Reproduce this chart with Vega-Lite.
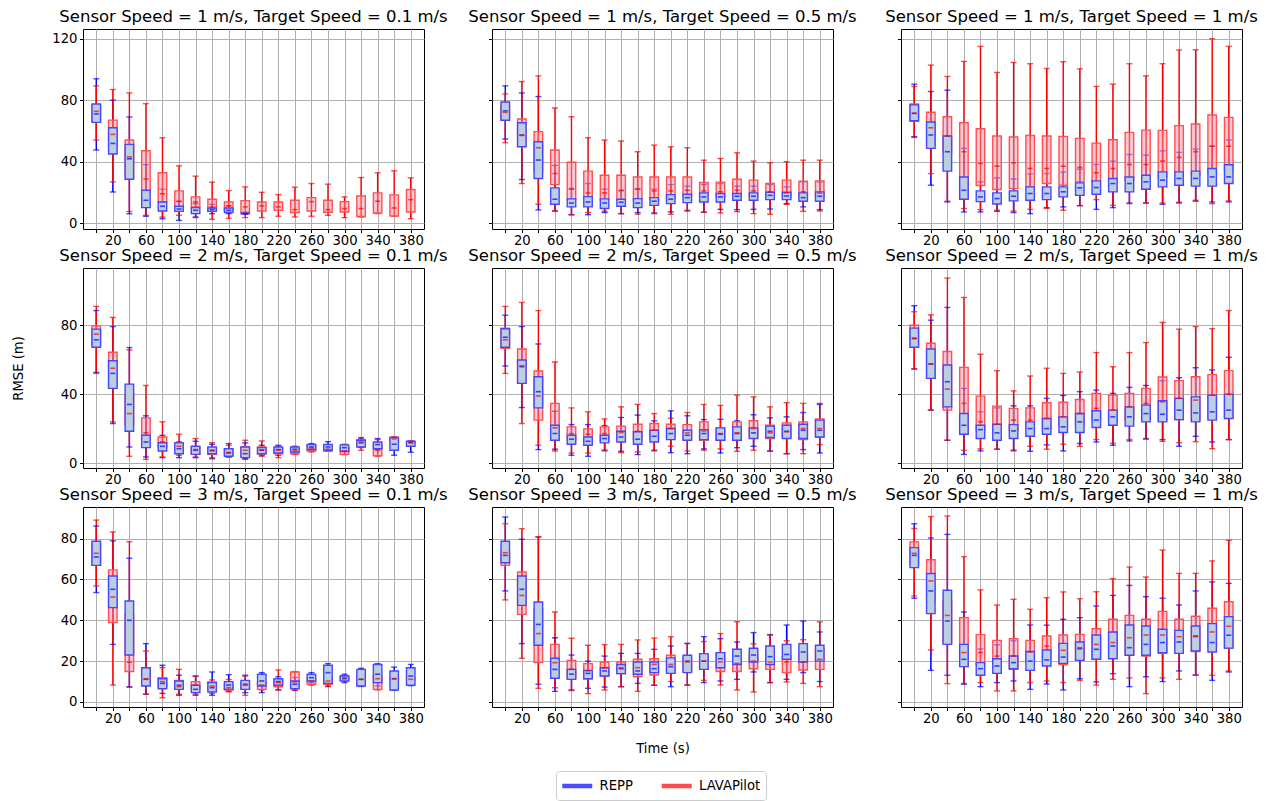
{
"$schema": "https://vega.github.io/schema/vega-lite/v6.json",
"padding": {"left": 10, "top": 8, "right": 5, "bottom": 5},
"background": "white",
"datasets": {"d": [
{"s":1,"tgt":0.1,"m":"REPP","t":0,"lo":47.5,"q1":65.5,"med":71,"q3":77.5,"hi":93.9},
{"s":1,"tgt":0.1,"m":"REPP","t":20,"lo":20.2,"q1":44.9,"med":51.8,"q3":62,"hi":80},
{"s":1,"tgt":0.1,"m":"REPP","t":40,"lo":6,"q1":28.5,"med":41.8,"q3":51.2,"hi":69},
{"s":1,"tgt":0.1,"m":"REPP","t":60,"lo":4.4,"q1":10,"med":14.8,"q3":21.3,"hi":38},
{"s":1,"tgt":0.1,"m":"REPP","t":80,"lo":2.8,"q1":7.8,"med":10.9,"q3":13.7,"hi":22},
{"s":1,"tgt":0.1,"m":"REPP","t":100,"lo":1.7,"q1":7.6,"med":9.1,"q3":10.9,"hi":14},
{"s":1,"tgt":0.1,"m":"REPP","t":120,"lo":3.9,"q1":6.1,"med":8.3,"q3":10,"hi":12.6},
{"s":1,"tgt":0.1,"m":"REPP","t":140,"lo":6.1,"q1":7.6,"med":8.7,"q3":9.8,"hi":12.2},
{"s":1,"tgt":0.1,"m":"REPP","t":160,"lo":6.1,"q1":6.8,"med":8.3,"q3":9.8,"hi":11.3},
{"s":1,"tgt":0.1,"m":"REPP","t":180,"lo":5.8,"q1":6,"med":6.1,"q3":6.4,"hi":6.6},
{"s":1,"tgt":0.5,"m":"REPP","t":0,"lo":54.7,"q1":66.9,"med":73,"q3":78.8,"hi":89.3},
{"s":1,"tgt":0.5,"m":"REPP","t":20,"lo":28.3,"q1":49.7,"med":57.3,"q3":65.3,"hi":84.7},
{"s":1,"tgt":0.5,"m":"REPP","t":40,"lo":8.5,"q1":29,"med":41,"q3":52.9,"hi":82.3},
{"s":1,"tgt":0.5,"m":"REPP","t":60,"lo":7.8,"q1":12.2,"med":15.5,"q3":22.9,"hi":37.5},
{"s":1,"tgt":0.5,"m":"REPP","t":80,"lo":5.4,"q1":10.5,"med":13,"q3":15.7,"hi":22},
{"s":1,"tgt":0.5,"m":"REPP","t":100,"lo":5.4,"q1":10.5,"med":13.7,"q3":17.2,"hi":25.7},
{"s":1,"tgt":0.5,"m":"REPP","t":120,"lo":6.8,"q1":9.4,"med":13,"q3":15.7,"hi":22},
{"s":1,"tgt":0.5,"m":"REPP","t":140,"lo":6.1,"q1":10.9,"med":13.5,"q3":15.5,"hi":21},
{"s":1,"tgt":0.5,"m":"REPP","t":160,"lo":6.8,"q1":10,"med":13,"q3":15.9,"hi":22},
{"s":1,"tgt":0.5,"m":"REPP","t":180,"lo":6.5,"q1":11.5,"med":14.2,"q3":16.5,"hi":22},
{"s":1,"tgt":0.5,"m":"REPP","t":200,"lo":7.2,"q1":12.6,"med":15.5,"q3":18.5,"hi":25},
{"s":1,"tgt":0.5,"m":"REPP","t":220,"lo":7.8,"q1":13.3,"med":16.5,"q3":18.7,"hi":24},
{"s":1,"tgt":0.5,"m":"REPP","t":240,"lo":7,"q1":13.7,"med":17,"q3":19.6,"hi":25},
{"s":1,"tgt":0.5,"m":"REPP","t":260,"lo":8.9,"q1":13.7,"med":17,"q3":19.2,"hi":25.7},
{"s":1,"tgt":0.5,"m":"REPP","t":280,"lo":8.7,"q1":14.8,"med":17.4,"q3":19.2,"hi":24},
{"s":1,"tgt":0.5,"m":"REPP","t":300,"lo":8.9,"q1":14.8,"med":17.4,"q3":19.6,"hi":24},
{"s":1,"tgt":0.5,"m":"REPP","t":320,"lo":9.1,"q1":15.2,"med":18,"q3":20,"hi":25},
{"s":1,"tgt":0.5,"m":"REPP","t":340,"lo":12.6,"q1":15.2,"med":17.6,"q3":20,"hi":23.5},
{"s":1,"tgt":0.5,"m":"REPP","t":360,"lo":10.5,"q1":14.2,"med":16.5,"q3":19.6,"hi":26.8},
{"s":1,"tgt":0.5,"m":"REPP","t":380,"lo":8.7,"q1":14.2,"med":17.4,"q3":20.3,"hi":26.8},
{"s":1,"tgt":1,"m":"REPP","t":0,"lo":56.2,"q1":66.6,"med":71.4,"q3":76.9,"hi":90.4},
{"s":1,"tgt":1,"m":"REPP","t":20,"lo":24.6,"q1":48.6,"med":57.3,"q3":65.8,"hi":85.6},
{"s":1,"tgt":1,"m":"REPP","t":40,"lo":13.7,"q1":33.8,"med":46.4,"q3":56.6,"hi":86.5},
{"s":1,"tgt":1,"m":"REPP","t":60,"lo":7.2,"q1":15.5,"med":21.3,"q3":30,"hi":48.6},
{"s":1,"tgt":1,"m":"REPP","t":80,"lo":7.2,"q1":13.9,"med":17,"q3":20.9,"hi":26.8},
{"s":1,"tgt":1,"m":"REPP","t":100,"lo":7.6,"q1":12.4,"med":15.9,"q3":19.6,"hi":29.4},
{"s":1,"tgt":1,"m":"REPP","t":120,"lo":6.8,"q1":14.4,"med":17.4,"q3":20.9,"hi":28.7},
{"s":1,"tgt":1,"m":"REPP","t":140,"lo":6.1,"q1":14.8,"med":19.2,"q3":23.5,"hi":32},
{"s":1,"tgt":1,"m":"REPP","t":160,"lo":10,"q1":15.2,"med":19.2,"q3":23.5,"hi":32.2},
{"s":1,"tgt":1,"m":"REPP","t":180,"lo":10.5,"q1":17,"med":20.3,"q3":23.5,"hi":33.1},
{"s":1,"tgt":1,"m":"REPP","t":200,"lo":11.3,"q1":18,"med":22.9,"q3":26.1,"hi":35},
{"s":1,"tgt":1,"m":"REPP","t":220,"lo":8.9,"q1":18.7,"med":23.1,"q3":27.4,"hi":38.1},
{"s":1,"tgt":1,"m":"REPP","t":240,"lo":10,"q1":20.3,"med":25.7,"q3":29,"hi":40.3},
{"s":1,"tgt":1,"m":"REPP","t":260,"lo":13,"q1":20.3,"med":25.7,"q3":30,"hi":44.6},
{"s":1,"tgt":1,"m":"REPP","t":280,"lo":13,"q1":22,"med":26.8,"q3":31.1,"hi":44.2},
{"s":1,"tgt":1,"m":"REPP","t":300,"lo":12.2,"q1":23.5,"med":27.9,"q3":33.3,"hi":47},
{"s":1,"tgt":1,"m":"REPP","t":320,"lo":13,"q1":24.6,"med":29,"q3":33.3,"hi":46},
{"s":1,"tgt":1,"m":"REPP","t":340,"lo":14.2,"q1":24,"med":29,"q3":33.8,"hi":48.1},
{"s":1,"tgt":1,"m":"REPP","t":360,"lo":13.7,"q1":24,"med":30,"q3":35.5,"hi":50},
{"s":1,"tgt":1,"m":"REPP","t":380,"lo":13.7,"q1":25.7,"med":30,"q3":37.9,"hi":54},
{"s":2,"tgt":0.1,"m":"REPP","t":0,"lo":52.6,"q1":67.2,"med":71.5,"q3":77.7,"hi":88.5},
{"s":2,"tgt":0.1,"m":"REPP","t":20,"lo":22.9,"q1":43.3,"med":52,"q3":59.4,"hi":79.2},
{"s":2,"tgt":0.1,"m":"REPP","t":40,"lo":9.3,"q1":18.4,"med":34,"q3":45.8,"hi":67},
{"s":2,"tgt":0.1,"m":"REPP","t":60,"lo":3.5,"q1":8.9,"med":12.2,"q3":16.1,"hi":27.4},
{"s":2,"tgt":0.1,"m":"REPP","t":80,"lo":3.1,"q1":7,"med":9.7,"q3":11.8,"hi":16.1},
{"s":2,"tgt":0.1,"m":"REPP","t":100,"lo":3.1,"q1":5.4,"med":8.3,"q3":11.7,"hi":12.2},
{"s":2,"tgt":0.1,"m":"REPP","t":120,"lo":3.1,"q1":5,"med":7.4,"q3":9.7,"hi":12.6},
{"s":2,"tgt":0.1,"m":"REPP","t":140,"lo":2.5,"q1":5.4,"med":7.4,"q3":9.3,"hi":10.9},
{"s":2,"tgt":0.1,"m":"REPP","t":160,"lo":3.5,"q1":3.9,"med":5.8,"q3":8.3,"hi":11.3},
{"s":2,"tgt":0.1,"m":"REPP","t":180,"lo":2.5,"q1":3.1,"med":5.4,"q3":9.3,"hi":11.7},
{"s":2,"tgt":0.1,"m":"REPP","t":200,"lo":4.5,"q1":5.4,"med":7.4,"q3":8.9,"hi":10.3},
{"s":2,"tgt":0.1,"m":"REPP","t":220,"lo":4.5,"q1":5.8,"med":7.8,"q3":9.3,"hi":10.3},
{"s":2,"tgt":0.1,"m":"REPP","t":240,"lo":5.4,"q1":6.4,"med":8,"q3":9.3,"hi":9.7},
{"s":2,"tgt":0.1,"m":"REPP","t":260,"lo":7,"q1":7.8,"med":9.3,"q3":10.7,"hi":11.3},
{"s":2,"tgt":0.1,"m":"REPP","t":280,"lo":7,"q1":7.4,"med":9.3,"q3":10.7,"hi":12.4},
{"s":2,"tgt":0.1,"m":"REPP","t":300,"lo":6.5,"q1":6.8,"med":8.9,"q3":10.5,"hi":10.8},
{"s":2,"tgt":0.1,"m":"REPP","t":320,"lo":9,"q1":9.3,"med":11.7,"q3":13.2,"hi":14.4},
{"s":2,"tgt":0.1,"m":"REPP","t":340,"lo":7.8,"q1":8.3,"med":10.7,"q3":12.2,"hi":14.2},
{"s":2,"tgt":0.1,"m":"REPP","t":360,"lo":4.5,"q1":7.4,"med":10.9,"q3":14.8,"hi":15.1},
{"s":2,"tgt":0.1,"m":"REPP","t":380,"lo":6.2,"q1":9.7,"med":11.7,"q3":12.6,"hi":12.8},
{"s":2,"tgt":0.5,"m":"REPP","t":0,"lo":56.3,"q1":67.2,"med":73,"q3":77.9,"hi":85.8},
{"s":2,"tgt":0.5,"m":"REPP","t":20,"lo":32.2,"q1":46.2,"med":55.9,"q3":59.8,"hi":79.2},
{"s":2,"tgt":0.5,"m":"REPP","t":40,"lo":7.8,"q1":32,"med":41.4,"q3":50.1,"hi":69.1},
{"s":2,"tgt":0.5,"m":"REPP","t":60,"lo":8,"q1":13.2,"med":17.1,"q3":21.9,"hi":30},
{"s":2,"tgt":0.5,"m":"REPP","t":80,"lo":4.5,"q1":10.9,"med":13.8,"q3":16.1,"hi":22.3},
{"s":2,"tgt":0.5,"m":"REPP","t":100,"lo":3.9,"q1":10.3,"med":12.6,"q3":15.1,"hi":22.3},
{"s":2,"tgt":0.5,"m":"REPP","t":120,"lo":7.4,"q1":11.7,"med":14.2,"q3":16.1,"hi":21.7},
{"s":2,"tgt":0.5,"m":"REPP","t":140,"lo":6.8,"q1":12.2,"med":15.1,"q3":18.4,"hi":26.4},
{"s":2,"tgt":0.5,"m":"REPP","t":160,"lo":4.9,"q1":10.9,"med":13.8,"q3":18.1,"hi":27.8},
{"s":2,"tgt":0.5,"m":"REPP","t":180,"lo":7.4,"q1":12.2,"med":15.5,"q3":19,"hi":24.5},
{"s":2,"tgt":0.5,"m":"REPP","t":200,"lo":6,"q1":13.6,"med":17.1,"q3":20,"hi":30.3},
{"s":2,"tgt":0.5,"m":"REPP","t":220,"lo":5.4,"q1":13.2,"med":16.1,"q3":19,"hi":27.4},
{"s":2,"tgt":0.5,"m":"REPP","t":240,"lo":8.2,"q1":13.6,"med":17.1,"q3":19.4,"hi":25.2},
{"s":2,"tgt":0.5,"m":"REPP","t":260,"lo":5.8,"q1":13.2,"med":16.7,"q3":20.4,"hi":25.4},
{"s":2,"tgt":0.5,"m":"REPP","t":280,"lo":8.9,"q1":13.2,"med":17.1,"q3":21,"hi":24.5},
{"s":2,"tgt":0.5,"m":"REPP","t":300,"lo":9.7,"q1":14.2,"med":17.5,"q3":20.4,"hi":28},
{"s":2,"tgt":0.5,"m":"REPP","t":320,"lo":7,"q1":14.8,"med":18.4,"q3":21.4,"hi":26.2},
{"s":2,"tgt":0.5,"m":"REPP","t":340,"lo":5.4,"q1":14.2,"med":18.4,"q3":21.9,"hi":26.8},
{"s":2,"tgt":0.5,"m":"REPP","t":360,"lo":7.8,"q1":14.2,"med":19,"q3":22.5,"hi":29.3},
{"s":2,"tgt":0.5,"m":"REPP","t":380,"lo":5.8,"q1":15.1,"med":19,"q3":24.9,"hi":34},
{"s":2,"tgt":1,"m":"REPP","t":0,"lo":54.6,"q1":67.2,"med":72.4,"q3":78.3,"hi":91.3},
{"s":2,"tgt":1,"m":"REPP","t":20,"lo":30.7,"q1":49.1,"med":57.5,"q3":66.2,"hi":82.9},
{"s":2,"tgt":1,"m":"REPP","t":40,"lo":13.2,"q1":32.6,"med":47.2,"q3":56.9,"hi":90.3},
{"s":2,"tgt":1,"m":"REPP","t":60,"lo":5,"q1":16.7,"med":21.9,"q3":28.7,"hi":43.3},
{"s":2,"tgt":1,"m":"REPP","t":80,"lo":7,"q1":14.2,"med":19.4,"q3":21.9,"hi":29.7},
{"s":2,"tgt":1,"m":"REPP","t":100,"lo":8,"q1":13.2,"med":17.5,"q3":22.5,"hi":32},
{"s":2,"tgt":1,"m":"REPP","t":120,"lo":7.4,"q1":14.2,"med":18.6,"q3":22.3,"hi":33.2},
{"s":2,"tgt":1,"m":"REPP","t":140,"lo":6.8,"q1":15.5,"med":20,"q3":23.9,"hi":33.2},
{"s":2,"tgt":1,"m":"REPP","t":160,"lo":10.5,"q1":16.7,"med":20,"q3":25.8,"hi":37.5},
{"s":2,"tgt":1,"m":"REPP","t":180,"lo":7,"q1":17.7,"med":21,"q3":26.8,"hi":39.2},
{"s":2,"tgt":1,"m":"REPP","t":200,"lo":11.3,"q1":17.7,"med":23.9,"q3":28.7,"hi":41.4},
{"s":2,"tgt":1,"m":"REPP","t":220,"lo":12.2,"q1":20.6,"med":24.9,"q3":30.3,"hi":42.3},
{"s":2,"tgt":1,"m":"REPP","t":240,"lo":10.3,"q1":21.9,"med":26.8,"q3":30.7,"hi":40.4},
{"s":2,"tgt":1,"m":"REPP","t":260,"lo":12.8,"q1":21.4,"med":26.8,"q3":32.6,"hi":43.9},
{"s":2,"tgt":1,"m":"REPP","t":280,"lo":14.2,"q1":23.9,"med":28.7,"q3":33.6,"hi":45},
{"s":2,"tgt":1,"m":"REPP","t":300,"lo":13.6,"q1":23.9,"med":28.3,"q3":36.1,"hi":47.8},
{"s":2,"tgt":1,"m":"REPP","t":320,"lo":9.7,"q1":25.2,"med":30.7,"q3":37.5,"hi":49.5},
{"s":2,"tgt":1,"m":"REPP","t":340,"lo":15.5,"q1":23.9,"med":29.1,"q3":38.4,"hi":55.3},
{"s":2,"tgt":1,"m":"REPP","t":360,"lo":12.2,"q1":24.9,"med":29.7,"q3":39.4,"hi":54},
{"s":2,"tgt":1,"m":"REPP","t":380,"lo":13.6,"q1":25.8,"med":30.7,"q3":40,"hi":61.4},
{"s":3,"tgt":0.1,"m":"REPP","t":0,"lo":53.6,"q1":66.9,"med":71,"q3":78.7,"hi":86.2},
{"s":3,"tgt":0.1,"m":"REPP","t":20,"lo":28.2,"q1":46.2,"med":55.2,"q3":61.7,"hi":78.9},
{"s":3,"tgt":0.1,"m":"REPP","t":40,"lo":7.5,"q1":23,"med":40,"q3":49.5,"hi":70.4},
{"s":3,"tgt":0.1,"m":"REPP","t":60,"lo":3.8,"q1":7.8,"med":11.1,"q3":16.8,"hi":28.6},
{"s":3,"tgt":0.1,"m":"REPP","t":80,"lo":4.2,"q1":6.5,"med":9.1,"q3":11.4,"hi":18},
{"s":3,"tgt":0.1,"m":"REPP","t":100,"lo":3.3,"q1":6.2,"med":8.2,"q3":10.3,"hi":13.1},
{"s":3,"tgt":0.1,"m":"REPP","t":120,"lo":3.3,"q1":4.6,"med":6.2,"q3":8.2,"hi":12.7},
{"s":3,"tgt":0.1,"m":"REPP","t":140,"lo":3.3,"q1":4.9,"med":7,"q3":9.5,"hi":14.7},
{"s":3,"tgt":0.1,"m":"REPP","t":160,"lo":5.2,"q1":6.2,"med":8.3,"q3":10,"hi":13.4},
{"s":3,"tgt":0.1,"m":"REPP","t":180,"lo":4.6,"q1":6.2,"med":8.7,"q3":10.6,"hi":13.1},
{"s":3,"tgt":0.1,"m":"REPP","t":200,"lo":4.6,"q1":7.8,"med":10.3,"q3":13.6,"hi":14.4},
{"s":3,"tgt":0.1,"m":"REPP","t":220,"lo":5.9,"q1":8.2,"med":10,"q3":11.4,"hi":12.4},
{"s":3,"tgt":0.1,"m":"REPP","t":240,"lo":5.7,"q1":6.5,"med":8.7,"q3":10.3,"hi":12},
{"s":3,"tgt":0.1,"m":"REPP","t":260,"lo":9.5,"q1":10.3,"med":11.9,"q3":13.6,"hi":14.4},
{"s":3,"tgt":0.1,"m":"REPP","t":280,"lo":7.8,"q1":9.1,"med":14.4,"q3":18,"hi":18.8},
{"s":3,"tgt":0.1,"m":"REPP","t":300,"lo":9.5,"q1":10.3,"med":11.4,"q3":12.7,"hi":13.6},
{"s":3,"tgt":0.1,"m":"REPP","t":320,"lo":7.6,"q1":7.8,"med":11.1,"q3":16,"hi":16.5},
{"s":3,"tgt":0.1,"m":"REPP","t":340,"lo":7.8,"q1":9.5,"med":13.6,"q3":18.4,"hi":18.8},
{"s":3,"tgt":0.1,"m":"REPP","t":360,"lo":5.7,"q1":5.9,"med":11.4,"q3":15.2,"hi":17.1},
{"s":3,"tgt":0.1,"m":"REPP","t":380,"lo":8,"q1":8.2,"med":12.7,"q3":16.8,"hi":18.4},
{"s":3,"tgt":0.5,"m":"REPP","t":0,"lo":54.4,"q1":68.2,"med":71.8,"q3":78.7,"hi":90.6},
{"s":3,"tgt":0.5,"m":"REPP","t":20,"lo":28.6,"q1":47.3,"med":55.2,"q3":61.7,"hi":79.7},
{"s":3,"tgt":0.5,"m":"REPP","t":40,"lo":8.7,"q1":27.8,"med":38,"q3":49,"hi":80.8},
{"s":3,"tgt":0.5,"m":"REPP","t":60,"lo":5.2,"q1":11.6,"med":16,"q3":21.4,"hi":31.5},
{"s":3,"tgt":0.5,"m":"REPP","t":80,"lo":5.9,"q1":11.1,"med":13.6,"q3":16,"hi":23},
{"s":3,"tgt":0.5,"m":"REPP","t":100,"lo":6.7,"q1":11.4,"med":14,"q3":15.5,"hi":20},
{"s":3,"tgt":0.5,"m":"REPP","t":120,"lo":7.3,"q1":12.7,"med":15.2,"q3":16.8,"hi":22.5},
{"s":3,"tgt":0.5,"m":"REPP","t":140,"lo":7.5,"q1":13.9,"med":16.3,"q3":18.4,"hi":23.8},
{"s":3,"tgt":0.5,"m":"REPP","t":160,"lo":9.1,"q1":13.6,"med":15.2,"q3":19.6,"hi":23.8},
{"s":3,"tgt":0.5,"m":"REPP","t":180,"lo":8.2,"q1":14.4,"med":16.3,"q3":19.6,"hi":25.8},
{"s":3,"tgt":0.5,"m":"REPP","t":200,"lo":7.5,"q1":14,"med":17.3,"q3":21.6,"hi":27.4},
{"s":3,"tgt":0.5,"m":"REPP","t":220,"lo":8.3,"q1":14.4,"med":20,"q3":22.9,"hi":28.7},
{"s":3,"tgt":0.5,"m":"REPP","t":240,"lo":9.5,"q1":16,"med":20,"q3":23.7,"hi":32},
{"s":3,"tgt":0.5,"m":"REPP","t":260,"lo":10.3,"q1":16.8,"med":21.2,"q3":24.2,"hi":31},
{"s":3,"tgt":0.5,"m":"REPP","t":280,"lo":11.1,"q1":18.4,"med":22.5,"q3":25.8,"hi":29.4},
{"s":3,"tgt":0.5,"m":"REPP","t":300,"lo":14.7,"q1":19.6,"med":23,"q3":26.3,"hi":34},
{"s":3,"tgt":0.5,"m":"REPP","t":320,"lo":9.5,"q1":18.4,"med":22.2,"q3":27.4,"hi":33},
{"s":3,"tgt":0.5,"m":"REPP","t":340,"lo":11.1,"q1":20.9,"med":23.3,"q3":28.2,"hi":37.7},
{"s":3,"tgt":0.5,"m":"REPP","t":360,"lo":14.4,"q1":19.6,"med":24.5,"q3":28.6,"hi":39.7},
{"s":3,"tgt":0.5,"m":"REPP","t":380,"lo":10,"q1":20,"med":25,"q3":27.8,"hi":34.3},
{"s":3,"tgt":1,"m":"REPP","t":0,"lo":50.8,"q1":65.8,"med":71.8,"q3":75.6,"hi":87.3},
{"s":3,"tgt":1,"m":"REPP","t":20,"lo":15.5,"q1":43.3,"med":54.4,"q3":62.9,"hi":80.3},
{"s":3,"tgt":1,"m":"REPP","t":40,"lo":13.1,"q1":28.2,"med":39.7,"q3":54.7,"hi":82.1},
{"s":3,"tgt":1,"m":"REPP","t":60,"lo":8.7,"q1":17.3,"med":20.9,"q3":28.2,"hi":44.1},
{"s":3,"tgt":1,"m":"REPP","t":80,"lo":7.5,"q1":13.1,"med":16.3,"q3":19.3,"hi":26},
{"s":3,"tgt":1,"m":"REPP","t":100,"lo":9.5,"q1":14,"med":17.6,"q3":21.2,"hi":28},
{"s":3,"tgt":1,"m":"REPP","t":120,"lo":10.3,"q1":16.3,"med":19.3,"q3":22.5,"hi":30},
{"s":3,"tgt":1,"m":"REPP","t":140,"lo":6.2,"q1":15.5,"med":20,"q3":24.7,"hi":37.7},
{"s":3,"tgt":1,"m":"REPP","t":160,"lo":8.8,"q1":17.6,"med":20.6,"q3":25.5,"hi":37.6},
{"s":3,"tgt":1,"m":"REPP","t":180,"lo":5.9,"q1":18.9,"med":22,"q3":28.7,"hi":40.5},
{"s":3,"tgt":1,"m":"REPP","t":200,"lo":11.4,"q1":20.4,"med":26.1,"q3":29.4,"hi":41.3},
{"s":3,"tgt":1,"m":"REPP","t":220,"lo":9.8,"q1":20.9,"med":25.8,"q3":32.8,"hi":47},
{"s":3,"tgt":1,"m":"REPP","t":240,"lo":13.9,"q1":21.2,"med":27.4,"q3":34.3,"hi":52.2},
{"s":3,"tgt":1,"m":"REPP","t":260,"lo":7.5,"q1":22.9,"med":26.6,"q3":37.7,"hi":57.1},
{"s":3,"tgt":1,"m":"REPP","t":280,"lo":12.4,"q1":22.9,"med":28.2,"q3":37.2,"hi":51.6},
{"s":3,"tgt":1,"m":"REPP","t":300,"lo":10,"q1":24.2,"med":29.1,"q3":35.6,"hi":50.8},
{"s":3,"tgt":1,"m":"REPP","t":320,"lo":15.2,"q1":23.8,"med":29.4,"q3":35.1,"hi":47.5},
{"s":3,"tgt":1,"m":"REPP","t":340,"lo":13.2,"q1":25,"med":32.3,"q3":37.2,"hi":54.4},
{"s":3,"tgt":1,"m":"REPP","t":360,"lo":10.6,"q1":24.5,"med":29.1,"q3":38.4,"hi":58.8},
{"s":3,"tgt":1,"m":"REPP","t":380,"lo":14.7,"q1":26.4,"med":32.7,"q3":41.8,"hi":58.1},
{"s":1,"tgt":0.1,"m":"LAVAPilot","t":0,"lo":54,"q1":66,"med":72.7,"q3":76.5,"hi":89.3},
{"s":1,"tgt":0.1,"m":"LAVAPilot","t":20,"lo":26.8,"q1":49.6,"med":57.7,"q3":67,"hi":86.9},
{"s":1,"tgt":0.1,"m":"LAVAPilot","t":40,"lo":7.5,"q1":30,"med":43,"q3":54,"hi":84.7},
{"s":1,"tgt":0.1,"m":"LAVAPilot","t":60,"lo":5,"q1":20,"med":28.7,"q3":47,"hi":77.7},
{"s":1,"tgt":0.1,"m":"LAVAPilot","t":80,"lo":3.9,"q1":13.7,"med":19,"q3":32.7,"hi":55.5},
{"s":1,"tgt":0.1,"m":"LAVAPilot","t":100,"lo":5,"q1":9.4,"med":14.2,"q3":20.9,"hi":37.2},
{"s":1,"tgt":0.1,"m":"LAVAPilot","t":120,"lo":3.5,"q1":10.5,"med":13.7,"q3":17,"hi":30.5},
{"s":1,"tgt":0.1,"m":"LAVAPilot","t":140,"lo":2.4,"q1":7.8,"med":10.5,"q3":15.5,"hi":26.6},
{"s":1,"tgt":0.1,"m":"LAVAPilot","t":160,"lo":3,"q1":8.3,"med":11.1,"q3":13.7,"hi":21.1},
{"s":1,"tgt":0.1,"m":"LAVAPilot","t":180,"lo":3.5,"q1":7,"med":10.5,"q3":14.6,"hi":23.5},
{"s":1,"tgt":0.1,"m":"LAVAPilot","t":200,"lo":3.5,"q1":7.8,"med":11.1,"q3":13.7,"hi":20},
{"s":1,"tgt":0.1,"m":"LAVAPilot","t":220,"lo":4.4,"q1":8.3,"med":10.5,"q3":13.7,"hi":18.5},
{"s":1,"tgt":0.1,"m":"LAVAPilot","t":240,"lo":3.9,"q1":6.8,"med":8.7,"q3":14.8,"hi":23.3},
{"s":1,"tgt":0.1,"m":"LAVAPilot","t":260,"lo":4.4,"q1":7.8,"med":13.9,"q3":16.5,"hi":25.7},
{"s":1,"tgt":0.1,"m":"LAVAPilot","t":280,"lo":5,"q1":7,"med":8.7,"q3":14.8,"hi":25.3},
{"s":1,"tgt":0.1,"m":"LAVAPilot","t":300,"lo":3.5,"q1":7.2,"med":9.4,"q3":13.9,"hi":17},
{"s":1,"tgt":0.1,"m":"LAVAPilot","t":320,"lo":3.9,"q1":4.2,"med":9.4,"q3":17.6,"hi":29.6},
{"s":1,"tgt":0.1,"m":"LAVAPilot","t":340,"lo":6.1,"q1":6.5,"med":14.2,"q3":19.6,"hi":32.7},
{"s":1,"tgt":0.1,"m":"LAVAPilot","t":360,"lo":4.4,"q1":4.6,"med":9.8,"q3":18.3,"hi":34},
{"s":1,"tgt":0.1,"m":"LAVAPilot","t":380,"lo":2.8,"q1":7.2,"med":15.2,"q3":21.8,"hi":29.4},
{"s":1,"tgt":0.5,"m":"LAVAPilot","t":0,"lo":52.3,"q1":67,"med":72,"q3":76.5,"hi":84},
{"s":1,"tgt":0.5,"m":"LAVAPilot","t":20,"lo":25.7,"q1":49.6,"med":57,"q3":67.7,"hi":92.1},
{"s":1,"tgt":0.5,"m":"LAVAPilot","t":40,"lo":12.2,"q1":33.3,"med":49,"q3":59.5,"hi":95.8},
{"s":1,"tgt":0.5,"m":"LAVAPilot","t":60,"lo":7.8,"q1":25,"med":32.2,"q3":47.5,"hi":74.9},
{"s":1,"tgt":0.5,"m":"LAVAPilot","t":80,"lo":5.4,"q1":15.2,"med":22.4,"q3":39.6,"hi":69.2},
{"s":1,"tgt":0.5,"m":"LAVAPilot","t":100,"lo":6.8,"q1":15.2,"med":19.6,"q3":33.8,"hi":55.5},
{"s":1,"tgt":0.5,"m":"LAVAPilot","t":120,"lo":7.6,"q1":15.2,"med":19.6,"q3":31.1,"hi":54},
{"s":1,"tgt":0.5,"m":"LAVAPilot","t":140,"lo":6.1,"q1":14.8,"med":21.3,"q3":31.1,"hi":53.4},
{"s":1,"tgt":0.5,"m":"LAVAPilot","t":160,"lo":5.7,"q1":15.2,"med":22.2,"q3":30,"hi":46.4},
{"s":1,"tgt":0.5,"m":"LAVAPilot","t":180,"lo":6.1,"q1":15.2,"med":20.9,"q3":30,"hi":50.7},
{"s":1,"tgt":0.5,"m":"LAVAPilot","t":200,"lo":5.7,"q1":15.9,"med":20.9,"q3":30,"hi":49.6},
{"s":1,"tgt":0.5,"m":"LAVAPilot","t":220,"lo":8.3,"q1":17,"med":21.3,"q3":30,"hi":49},
{"s":1,"tgt":0.5,"m":"LAVAPilot","t":240,"lo":7,"q1":17,"med":20.9,"q3":26.4,"hi":40.9},
{"s":1,"tgt":0.5,"m":"LAVAPilot","t":260,"lo":6.5,"q1":17,"med":20.3,"q3":26.6,"hi":42},
{"s":1,"tgt":0.5,"m":"LAVAPilot","t":280,"lo":7.4,"q1":16.5,"med":21.3,"q3":28.5,"hi":45.7},
{"s":1,"tgt":0.5,"m":"LAVAPilot","t":300,"lo":6.1,"q1":17,"med":20.9,"q3":27.9,"hi":40.3},
{"s":1,"tgt":0.5,"m":"LAVAPilot","t":320,"lo":5.7,"q1":17,"med":20.3,"q3":25.7,"hi":39.2},
{"s":1,"tgt":0.5,"m":"LAVAPilot","t":340,"lo":12.2,"q1":17,"med":19.6,"q3":27.9,"hi":39.9},
{"s":1,"tgt":0.5,"m":"LAVAPilot","t":360,"lo":7.6,"q1":15.9,"med":20.3,"q3":27.2,"hi":40.9},
{"s":1,"tgt":0.5,"m":"LAVAPilot","t":380,"lo":7.8,"q1":16.5,"med":19.5,"q3":27.4,"hi":40.9},
{"s":1,"tgt":1,"m":"LAVAPilot","t":0,"lo":55.7,"q1":66.2,"med":71.4,"q3":77.5,"hi":88.9},
{"s":1,"tgt":1,"m":"LAVAPilot","t":20,"lo":32.2,"q1":50.7,"med":62,"q3":72.1,"hi":102.8},
{"s":1,"tgt":1,"m":"LAVAPilot","t":40,"lo":14.2,"q1":45.7,"med":56.6,"q3":69.2,"hi":95.4},
{"s":1,"tgt":1,"m":"LAVAPilot","t":60,"lo":9.4,"q1":16,"med":46.4,"q3":65.3,"hi":105.2},
{"s":1,"tgt":1,"m":"LAVAPilot","t":80,"lo":8.7,"q1":24.4,"med":38.8,"q3":61.4,"hi":115},
{"s":1,"tgt":1,"m":"LAVAPilot","t":100,"lo":8.3,"q1":21.8,"med":37,"q3":56.6,"hi":98},
{"s":1,"tgt":1,"m":"LAVAPilot","t":120,"lo":7.8,"q1":22.4,"med":39.2,"q3":56,"hi":104.5},
{"s":1,"tgt":1,"m":"LAVAPilot","t":140,"lo":8.9,"q1":23.5,"med":35.5,"q3":57,"hi":103.7},
{"s":1,"tgt":1,"m":"LAVAPilot","t":160,"lo":9.5,"q1":25.7,"med":35.5,"q3":56.6,"hi":100.6},
{"s":1,"tgt":1,"m":"LAVAPilot","t":180,"lo":8.3,"q1":24.6,"med":37,"q3":56.4,"hi":105},
{"s":1,"tgt":1,"m":"LAVAPilot","t":200,"lo":11.3,"q1":26.8,"med":36.2,"q3":55.1,"hi":100.4},
{"s":1,"tgt":1,"m":"LAVAPilot","t":220,"lo":15.2,"q1":26.8,"med":32.7,"q3":52,"hi":88.9},
{"s":1,"tgt":1,"m":"LAVAPilot","t":240,"lo":11.5,"q1":27.9,"med":35.5,"q3":54.2,"hi":90.4},
{"s":1,"tgt":1,"m":"LAVAPilot","t":260,"lo":12.6,"q1":27.9,"med":38.1,"q3":59,"hi":103.7},
{"s":1,"tgt":1,"m":"LAVAPilot","t":280,"lo":13,"q1":29,"med":38.1,"q3":60.5,"hi":95.8},
{"s":1,"tgt":1,"m":"LAVAPilot","t":300,"lo":13,"q1":30,"med":40.3,"q3":60.3,"hi":103.7},
{"s":1,"tgt":1,"m":"LAVAPilot","t":320,"lo":13.5,"q1":31.1,"med":42.7,"q3":63.4,"hi":112.6},
{"s":1,"tgt":1,"m":"LAVAPilot","t":340,"lo":14.8,"q1":31.1,"med":46.4,"q3":64.5,"hi":112.8},
{"s":1,"tgt":1,"m":"LAVAPilot","t":360,"lo":12.6,"q1":32.2,"med":50,"q3":70.3,"hi":120},
{"s":1,"tgt":1,"m":"LAVAPilot","t":380,"lo":14.4,"q1":34.4,"med":50,"q3":68.8,"hi":115},
{"s":2,"tgt":0.1,"m":"LAVAPilot","t":0,"lo":52,"q1":68.5,"med":74.8,"q3":79.6,"hi":90.9},
{"s":2,"tgt":0.1,"m":"LAVAPilot","t":20,"lo":23.9,"q1":44.3,"med":55,"q3":64.3,"hi":84.5},
{"s":2,"tgt":0.1,"m":"LAVAPilot","t":40,"lo":3.9,"q1":22,"med":28.7,"q3":40,"hi":65.6},
{"s":2,"tgt":0.1,"m":"LAVAPilot","t":60,"lo":2.1,"q1":13.2,"med":17.5,"q3":26.2,"hi":45},
{"s":2,"tgt":0.1,"m":"LAVAPilot","t":80,"lo":3.5,"q1":9.3,"med":12.2,"q3":15.1,"hi":23.9},
{"s":2,"tgt":0.1,"m":"LAVAPilot","t":100,"lo":4.5,"q1":7.4,"med":9.7,"q3":11.7,"hi":16.7},
{"s":2,"tgt":0.1,"m":"LAVAPilot","t":120,"lo":3.5,"q1":5.4,"med":7.8,"q3":9.3,"hi":14.2},
{"s":2,"tgt":0.1,"m":"LAVAPilot","t":140,"lo":3.1,"q1":5,"med":7,"q3":8.9,"hi":11.8},
{"s":2,"tgt":0.1,"m":"LAVAPilot","t":160,"lo":3.5,"q1":4.5,"med":6.2,"q3":8.3,"hi":10.3},
{"s":2,"tgt":0.1,"m":"LAVAPilot","t":180,"lo":2.1,"q1":3.9,"med":7.4,"q3":9.3,"hi":13.2},
{"s":2,"tgt":0.1,"m":"LAVAPilot","t":200,"lo":3.9,"q1":5.4,"med":7.6,"q3":9.3,"hi":12.8},
{"s":2,"tgt":0.1,"m":"LAVAPilot","t":220,"lo":3.1,"q1":5.4,"med":7.4,"q3":8.9,"hi":9.7},
{"s":2,"tgt":0.1,"m":"LAVAPilot","t":240,"lo":4.9,"q1":5.4,"med":7,"q3":8.3,"hi":9.3},
{"s":2,"tgt":0.1,"m":"LAVAPilot","t":260,"lo":6.4,"q1":7,"med":8.7,"q3":10.3,"hi":10.7},
{"s":2,"tgt":0.1,"m":"LAVAPilot","t":280,"lo":6.8,"q1":7,"med":8,"q3":9.9,"hi":10.2},
{"s":2,"tgt":0.1,"m":"LAVAPilot","t":300,"lo":4.9,"q1":5,"med":7,"q3":8.9,"hi":10.5},
{"s":2,"tgt":0.1,"m":"LAVAPilot","t":320,"lo":7.4,"q1":9.7,"med":12.2,"q3":13.6,"hi":14.8},
{"s":2,"tgt":0.1,"m":"LAVAPilot","t":340,"lo":3.9,"q1":4.2,"med":7.4,"q3":10.9,"hi":13.6},
{"s":2,"tgt":0.1,"m":"LAVAPilot","t":360,"lo":12,"q1":12.5,"med":14,"q3":14.8,"hi":15.1},
{"s":2,"tgt":0.1,"m":"LAVAPilot","t":380,"lo":11.3,"q1":11.6,"med":12,"q3":12.4,"hi":12.6},
{"s":2,"tgt":0.5,"m":"LAVAPilot","t":0,"lo":52,"q1":66.6,"med":71.5,"q3":78.3,"hi":90.9},
{"s":2,"tgt":0.5,"m":"LAVAPilot","t":20,"lo":22.9,"q1":46.2,"med":56.5,"q3":66.2,"hi":93.2},
{"s":2,"tgt":0.5,"m":"LAVAPilot","t":40,"lo":10.3,"q1":24.9,"med":39,"q3":53.4,"hi":88.5},
{"s":2,"tgt":0.5,"m":"LAVAPilot","t":60,"lo":7,"q1":13.2,"med":20.4,"q3":34.6,"hi":58.6},
{"s":2,"tgt":0.5,"m":"LAVAPilot","t":80,"lo":5.8,"q1":13.2,"med":17,"q3":21,"hi":32},
{"s":2,"tgt":0.5,"m":"LAVAPilot","t":100,"lo":5.8,"q1":12.2,"med":16.7,"q3":19.8,"hi":29.7},
{"s":2,"tgt":0.5,"m":"LAVAPilot","t":120,"lo":7,"q1":13,"med":17.1,"q3":21,"hi":25.6},
{"s":2,"tgt":0.5,"m":"LAVAPilot","t":140,"lo":6,"q1":13.2,"med":17.7,"q3":21.4,"hi":32.6},
{"s":2,"tgt":0.5,"m":"LAVAPilot","t":160,"lo":6.4,"q1":13.6,"med":18.4,"q3":22.5,"hi":34},
{"s":2,"tgt":0.5,"m":"LAVAPilot","t":180,"lo":7,"q1":13.6,"med":19,"q3":22.9,"hi":28.7},
{"s":2,"tgt":0.5,"m":"LAVAPilot","t":200,"lo":9.7,"q1":15.1,"med":20,"q3":22.5,"hi":26},
{"s":2,"tgt":0.5,"m":"LAVAPilot","t":220,"lo":7,"q1":13.6,"med":17.5,"q3":22.3,"hi":29.3},
{"s":2,"tgt":0.5,"m":"LAVAPilot","t":240,"lo":7.4,"q1":13.2,"med":18.6,"q3":23.9,"hi":34},
{"s":2,"tgt":0.5,"m":"LAVAPilot","t":260,"lo":8.2,"q1":13.2,"med":17.1,"q3":20.2,"hi":33.4},
{"s":2,"tgt":0.5,"m":"LAVAPilot","t":280,"lo":6.8,"q1":13.2,"med":17.5,"q3":23.9,"hi":39.4},
{"s":2,"tgt":0.5,"m":"LAVAPilot","t":300,"lo":7.4,"q1":15.1,"med":20,"q3":24.5,"hi":38.4},
{"s":2,"tgt":0.5,"m":"LAVAPilot","t":320,"lo":6.8,"q1":14.2,"med":17.5,"q3":21.9,"hi":32.6},
{"s":2,"tgt":0.5,"m":"LAVAPilot","t":340,"lo":5.4,"q1":14.8,"med":18.1,"q3":23.3,"hi":35},
{"s":2,"tgt":0.5,"m":"LAVAPilot","t":360,"lo":5.4,"q1":13.6,"med":20,"q3":23.9,"hi":34.6},
{"s":2,"tgt":0.5,"m":"LAVAPilot","t":380,"lo":10.7,"q1":15.1,"med":20,"q3":25.6,"hi":34.6},
{"s":2,"tgt":1,"m":"LAVAPilot","t":0,"lo":54.6,"q1":67.2,"med":72.2,"q3":80,"hi":87.8},
{"s":2,"tgt":1,"m":"LAVAPilot","t":20,"lo":30.7,"q1":49.1,"med":57.5,"q3":69.5,"hi":86},
{"s":2,"tgt":1,"m":"LAVAPilot","t":40,"lo":13.2,"q1":30.7,"med":42.9,"q3":64.7,"hi":107.4},
{"s":2,"tgt":1,"m":"LAVAPilot","t":60,"lo":7.4,"q1":17.1,"med":34.6,"q3":55.5,"hi":96.1},
{"s":2,"tgt":1,"m":"LAVAPilot","t":80,"lo":8.2,"q1":19,"med":23.9,"q3":38.8,"hi":63.1},
{"s":2,"tgt":1,"m":"LAVAPilot","t":100,"lo":8,"q1":19,"med":22.5,"q3":33,"hi":53.6},
{"s":2,"tgt":1,"m":"LAVAPilot","t":120,"lo":7,"q1":19,"med":24.9,"q3":31.7,"hi":41.9},
{"s":2,"tgt":1,"m":"LAVAPilot","t":140,"lo":9.7,"q1":20,"med":24.9,"q3":32,"hi":50.5},
{"s":2,"tgt":1,"m":"LAVAPilot","t":160,"lo":8,"q1":20,"med":25.8,"q3":35,"hi":55},
{"s":2,"tgt":1,"m":"LAVAPilot","t":180,"lo":10.9,"q1":21,"med":26.8,"q3":35.3,"hi":52},
{"s":2,"tgt":1,"m":"LAVAPilot","t":200,"lo":9.7,"q1":22,"med":28.7,"q3":36.9,"hi":52.8},
{"s":2,"tgt":1,"m":"LAVAPilot","t":220,"lo":13.6,"q1":24.9,"med":31.7,"q3":40.4,"hi":64.1},
{"s":2,"tgt":1,"m":"LAVAPilot","t":240,"lo":11.5,"q1":24,"med":30.7,"q3":39.4,"hi":55.9},
{"s":2,"tgt":1,"m":"LAVAPilot","t":260,"lo":13.6,"q1":24.9,"med":32.6,"q3":40.4,"hi":64.1},
{"s":2,"tgt":1,"m":"LAVAPilot","t":280,"lo":13.8,"q1":24.9,"med":34.6,"q3":43.3,"hi":69.9},
{"s":2,"tgt":1,"m":"LAVAPilot","t":300,"lo":12.6,"q1":24.9,"med":35.5,"q3":49.9,"hi":81.6},
{"s":2,"tgt":1,"m":"LAVAPilot","t":320,"lo":11.8,"q1":25.2,"med":37.5,"q3":47.8,"hi":77.7},
{"s":2,"tgt":1,"m":"LAVAPilot","t":340,"lo":12.4,"q1":24.9,"med":36.5,"q3":50.1,"hi":79.2},
{"s":2,"tgt":1,"m":"LAVAPilot","t":360,"lo":8.3,"q1":26.8,"med":39.4,"q3":51.3,"hi":78},
{"s":2,"tgt":1,"m":"LAVAPilot","t":380,"lo":13.6,"q1":26.8,"med":39.8,"q3":53.6,"hi":88.5},
{"s":3,"tgt":0.1,"m":"LAVAPilot","t":0,"lo":56.8,"q1":67,"med":72.8,"q3":78,"hi":89.1},
{"s":3,"tgt":0.1,"m":"LAVAPilot","t":20,"lo":8.3,"q1":38.9,"med":51.4,"q3":64.7,"hi":83.3},
{"s":3,"tgt":0.1,"m":"LAVAPilot","t":40,"lo":7.2,"q1":14.9,"med":19.5,"q3":42.9,"hi":78.5},
{"s":3,"tgt":0.1,"m":"LAVAPilot","t":60,"lo":3.8,"q1":8.7,"med":11.4,"q3":16.3,"hi":25},
{"s":3,"tgt":0.1,"m":"LAVAPilot","t":80,"lo":2.1,"q1":7.5,"med":10,"q3":11.9,"hi":16.8},
{"s":3,"tgt":0.1,"m":"LAVAPilot","t":100,"lo":3.8,"q1":6.5,"med":7.5,"q3":10.6,"hi":16},
{"s":3,"tgt":0.1,"m":"LAVAPilot","t":120,"lo":3.8,"q1":6.5,"med":8.3,"q3":10,"hi":12.7},
{"s":3,"tgt":0.1,"m":"LAVAPilot","t":140,"lo":4.2,"q1":6.2,"med":7.8,"q3":9.8,"hi":10.8},
{"s":3,"tgt":0.1,"m":"LAVAPilot","t":160,"lo":5,"q1":5.9,"med":7,"q3":8.7,"hi":11},
{"s":3,"tgt":0.1,"m":"LAVAPilot","t":180,"lo":3.3,"q1":6.2,"med":8.2,"q3":9.8,"hi":12.7},
{"s":3,"tgt":0.1,"m":"LAVAPilot","t":200,"lo":5.9,"q1":6.2,"med":8.3,"q3":9.5,"hi":12.5},
{"s":3,"tgt":0.1,"m":"LAVAPilot","t":220,"lo":5.9,"q1":7.5,"med":9.5,"q3":11.1,"hi":15.7},
{"s":3,"tgt":0.1,"m":"LAVAPilot","t":240,"lo":5.7,"q1":7.5,"med":9.8,"q3":14.7,"hi":14.9},
{"s":3,"tgt":0.1,"m":"LAVAPilot","t":260,"lo":8.2,"q1":8.7,"med":10.3,"q3":11.4,"hi":11.9},
{"s":3,"tgt":0.1,"m":"LAVAPilot","t":280,"lo":7.5,"q1":8.7,"med":10.3,"q3":11.4,"hi":12.7},
{"s":3,"tgt":0.1,"m":"LAVAPilot","t":300,"lo":10.3,"q1":10.6,"med":11.8,"q3":12.7,"hi":12.9},
{"s":3,"tgt":0.1,"m":"LAVAPilot","t":320,"lo":8.2,"q1":8.7,"med":11.1,"q3":12.7,"hi":12.9},
{"s":3,"tgt":0.1,"m":"LAVAPilot","t":340,"lo":5.9,"q1":6.2,"med":11.4,"q3":12.7,"hi":13},
{"s":3,"tgt":0.1,"m":"LAVAPilot","t":360,"lo":10.8,"q1":11,"med":11.4,"q3":11.9,"hi":12.2},
{"s":3,"tgt":0.1,"m":"LAVAPilot","t":380,"lo":10.6,"q1":10.8,"med":11.1,"q3":11.4,"hi":11.6},
{"s":3,"tgt":0.5,"m":"LAVAPilot","t":0,"lo":50,"q1":66.9,"med":73.1,"q3":74,"hi":87.3},
{"s":3,"tgt":0.5,"m":"LAVAPilot","t":20,"lo":21.4,"q1":42.9,"med":52.2,"q3":63.7,"hi":84.9},
{"s":3,"tgt":0.5,"m":"LAVAPilot","t":40,"lo":6.7,"q1":19.3,"med":33.5,"q3":45.4,"hi":81},
{"s":3,"tgt":0.5,"m":"LAVAPilot","t":60,"lo":7,"q1":14.4,"med":19.3,"q3":28.2,"hi":44.1},
{"s":3,"tgt":0.5,"m":"LAVAPilot","t":80,"lo":5.6,"q1":11.9,"med":16,"q3":20.4,"hi":31.2},
{"s":3,"tgt":0.5,"m":"LAVAPilot","t":100,"lo":4.1,"q1":11.4,"med":15.2,"q3":18.8,"hi":27.8},
{"s":3,"tgt":0.5,"m":"LAVAPilot","t":120,"lo":5.9,"q1":12.7,"med":16.7,"q3":19.6,"hi":28.1},
{"s":3,"tgt":0.5,"m":"LAVAPilot","t":140,"lo":7.5,"q1":13.9,"med":16.8,"q3":19.6,"hi":28.2},
{"s":3,"tgt":0.5,"m":"LAVAPilot","t":160,"lo":5.2,"q1":12.4,"med":16.8,"q3":20.9,"hi":30.4},
{"s":3,"tgt":0.5,"m":"LAVAPilot","t":180,"lo":8.2,"q1":13.2,"med":18.4,"q3":21.2,"hi":31.3},
{"s":3,"tgt":0.5,"m":"LAVAPilot","t":200,"lo":10,"q1":14.4,"med":18.4,"q3":22.9,"hi":32},
{"s":3,"tgt":0.5,"m":"LAVAPilot","t":220,"lo":8.3,"q1":15,"med":19.6,"q3":21.7,"hi":28.6},
{"s":3,"tgt":0.5,"m":"LAVAPilot","t":240,"lo":10.6,"q1":16.3,"med":20,"q3":22.5,"hi":29.6},
{"s":3,"tgt":0.5,"m":"LAVAPilot","t":260,"lo":8.3,"q1":14.9,"med":19.6,"q3":24.2,"hi":33.5},
{"s":3,"tgt":0.5,"m":"LAVAPilot","t":280,"lo":5.9,"q1":14.9,"med":18.9,"q3":20.9,"hi":39.3},
{"s":3,"tgt":0.5,"m":"LAVAPilot","t":300,"lo":4.9,"q1":16.3,"med":20,"q3":23.3,"hi":28.5},
{"s":3,"tgt":0.5,"m":"LAVAPilot","t":320,"lo":9.5,"q1":16,"med":19.6,"q3":24.2,"hi":32.8},
{"s":3,"tgt":0.5,"m":"LAVAPilot","t":340,"lo":9.8,"q1":14.4,"med":19.6,"q3":22.5,"hi":30},
{"s":3,"tgt":0.5,"m":"LAVAPilot","t":360,"lo":9.1,"q1":15.7,"med":19.6,"q3":24.2,"hi":30.5},
{"s":3,"tgt":0.5,"m":"LAVAPilot","t":380,"lo":7.5,"q1":16,"med":20.9,"q3":25.8,"hi":39.3},
{"s":3,"tgt":1,"m":"LAVAPilot","t":0,"lo":51.9,"q1":67.4,"med":72.8,"q3":78.4,"hi":85},
{"s":3,"tgt":1,"m":"LAVAPilot","t":20,"lo":25.5,"q1":49.5,"med":59.3,"q3":69.7,"hi":90.8},
{"s":3,"tgt":1,"m":"LAVAPilot","t":40,"lo":9,"q1":29,"med":42.4,"q3":50,"hi":91.1},
{"s":3,"tgt":1,"m":"LAVAPilot","t":60,"lo":9.1,"q1":17.6,"med":24.2,"q3":41.3,"hi":71.2},
{"s":3,"tgt":1,"m":"LAVAPilot","t":80,"lo":9.5,"q1":18.4,"med":24.2,"q3":33,"hi":54.9},
{"s":3,"tgt":1,"m":"LAVAPilot","t":100,"lo":5.4,"q1":18.4,"med":22.5,"q3":30.2,"hi":47.5},
{"s":3,"tgt":1,"m":"LAVAPilot","t":120,"lo":5.4,"q1":16,"med":22.5,"q3":31,"hi":50.3},
{"s":3,"tgt":1,"m":"LAVAPilot","t":140,"lo":9.5,"q1":20,"med":24.5,"q3":30.2,"hi":45.4},
{"s":3,"tgt":1,"m":"LAVAPilot","t":160,"lo":10.3,"q1":20.9,"med":27.4,"q3":32.3,"hi":51.1},
{"s":3,"tgt":1,"m":"LAVAPilot","t":180,"lo":9.5,"q1":18.4,"med":25.3,"q3":32.8,"hi":53.9},
{"s":3,"tgt":1,"m":"LAVAPilot","t":200,"lo":10.6,"q1":20.9,"med":26.6,"q3":33.1,"hi":50.6},
{"s":3,"tgt":1,"m":"LAVAPilot","t":220,"lo":8.3,"q1":20.9,"med":28.2,"q3":35.9,"hi":54},
{"s":3,"tgt":1,"m":"LAVAPilot","t":240,"lo":11.1,"q1":22.5,"med":29.1,"q3":40.5,"hi":60.4},
{"s":3,"tgt":1,"m":"LAVAPilot","t":260,"lo":11.8,"q1":23,"med":31.5,"q3":42.4,"hi":66.1},
{"s":3,"tgt":1,"m":"LAVAPilot","t":280,"lo":4.1,"q1":22.5,"med":32.8,"q3":40.5,"hi":61.2},
{"s":3,"tgt":1,"m":"LAVAPilot","t":300,"lo":11.8,"q1":23.8,"med":32.8,"q3":44.4,"hi":74.4},
{"s":3,"tgt":1,"m":"LAVAPilot","t":320,"lo":11.1,"q1":24.7,"med":32,"q3":40.5,"hi":63},
{"s":3,"tgt":1,"m":"LAVAPilot","t":340,"lo":13.2,"q1":24.7,"med":32,"q3":42,"hi":63},
{"s":3,"tgt":1,"m":"LAVAPilot","t":360,"lo":13.1,"q1":27.4,"med":34.3,"q3":45.9,"hi":69.1},
{"s":3,"tgt":1,"m":"LAVAPilot","t":380,"lo":15.2,"q1":26.4,"med":37.1,"q3":49.1,"hi":79.2}
]},
"data": {"name": "d"},
"columns": 3,
"spacing": {"row": 39, "column": 68},
"bounds": "flush",
"concat": [
{"width":341,"height":200,"title":"Sensor Speed = 1 m/s, Target Speed = 0.1 m/s","transform":[{"filter":"datum.s == 1 && datum.tgt == 0.1"}],
 "encoding":{"x":{"field":"t","type":"quantitative","scale":{"domain":[-10,390],"nice":false,"zero":false},"axis":{"values":[0,20,40,60,80,100,120,140,160,180,200,220,240,260,280,300,320,340,360,380],"labelExpr":"datum.value % 40 == 20 ? datum.label : ''","title":null}},
  "color":{"field":"m","type":"nominal","title":null,"scale":{"domain":["REPP","LAVAPilot"],"range":["#0000ff","#ff0000"]},"legend":{"orient":"none","legendX":473,"legendY":742,"direction":"horizontal","symbolType":"M-2,0H2","symbolStrokeWidth":4.5,"symbolSize":225,"symbolOffset":6.25,"labelFontSize":13.2,"labelColor":"#000000","strokeColor":"#cccccc","fillColor":"#ffffff","padding":5,"cornerRadius":3,"columnPadding":19.5,"labelOffset":12.25}}},
 "layer":[
  {"mark":{"type":"rule","strokeWidth":1.4},"encoding":{"y":{"field":"lo","type":"quantitative","title":null,"scale":{"domain":[-3.9,126.3],"nice":false,"zero":false},"axis":{"values":[0,20,40,60,80,100,120],"title":null}},"y2":{"field":"hi"}}},
  {"mark":{"type":"tick","orient":"horizontal","size":6,"thickness":1.4},"encoding":{"y":{"field":"lo","type":"quantitative","title":null}}},
  {"mark":{"type":"tick","orient":"horizontal","size":6,"thickness":1.4},"encoding":{"y":{"field":"hi","type":"quantitative","title":null}}},
  {"mark":{"type":"bar","size":8.5,"strokeWidth":1.4},"encoding":{"y":{"field":"q1","type":"quantitative","title":null},"y2":{"field":"q3"},"order":{"field":"m","type":"nominal","sort":"ascending"},"fill":{"field":"m","type":"nominal","legend":null,"scale":{"domain":["REPP","LAVAPilot"],"range":["#bccfe0","rgba(245,150,170,0.5)"]}},"stroke":{"field":"m","type":"nominal","legend":null,"scale":{"domain":["REPP","LAVAPilot"],"range":["#4646ff","#ff5050"]}}}},
  {"mark":{"type":"tick","orient":"horizontal","size":5,"thickness":1.6},"encoding":{"y":{"field":"med","type":"quantitative","title":null}}}
 ]},
{"width":341,"height":200,"title":"Sensor Speed = 1 m/s, Target Speed = 0.5 m/s","transform":[{"filter":"datum.s == 1 && datum.tgt == 0.5"}],
 "encoding":{"x":{"field":"t","type":"quantitative","scale":{"domain":[-10,390],"nice":false,"zero":false},"axis":{"values":[0,20,40,60,80,100,120,140,160,180,200,220,240,260,280,300,320,340,360,380],"labelExpr":"datum.value % 40 == 20 ? datum.label : ''","title":null}},
  "color":{"field":"m","type":"nominal","title":null,"scale":{"domain":["REPP","LAVAPilot"],"range":["#0000ff","#ff0000"]},"legend":{"orient":"none","legendX":473,"legendY":742,"direction":"horizontal","symbolType":"M-2,0H2","symbolStrokeWidth":4.5,"symbolSize":225,"symbolOffset":6.25,"labelFontSize":13.2,"labelColor":"#000000","strokeColor":"#cccccc","fillColor":"#ffffff","padding":5,"cornerRadius":3,"columnPadding":19.5,"labelOffset":12.25}}},
 "layer":[
  {"mark":{"type":"rule","strokeWidth":1.4},"encoding":{"y":{"field":"lo","type":"quantitative","title":null,"scale":{"domain":[-3.9,126.3],"nice":false,"zero":false},"axis":{"values":[0,20,40,60,80,100,120],"labels":false,"title":null}},"y2":{"field":"hi"}}},
  {"mark":{"type":"tick","orient":"horizontal","size":6,"thickness":1.4},"encoding":{"y":{"field":"lo","type":"quantitative","title":null}}},
  {"mark":{"type":"tick","orient":"horizontal","size":6,"thickness":1.4},"encoding":{"y":{"field":"hi","type":"quantitative","title":null}}},
  {"mark":{"type":"bar","size":8.5,"strokeWidth":1.4},"encoding":{"y":{"field":"q1","type":"quantitative","title":null},"y2":{"field":"q3"},"order":{"field":"m","type":"nominal","sort":"ascending"},"fill":{"field":"m","type":"nominal","legend":null,"scale":{"domain":["REPP","LAVAPilot"],"range":["#bccfe0","rgba(245,150,170,0.5)"]}},"stroke":{"field":"m","type":"nominal","legend":null,"scale":{"domain":["REPP","LAVAPilot"],"range":["#4646ff","#ff5050"]}}}},
  {"mark":{"type":"tick","orient":"horizontal","size":5,"thickness":1.6},"encoding":{"y":{"field":"med","type":"quantitative","title":null}}}
 ]},
{"width":341,"height":200,"title":"Sensor Speed = 1 m/s, Target Speed = 1 m/s","transform":[{"filter":"datum.s == 1 && datum.tgt == 1"}],
 "encoding":{"x":{"field":"t","type":"quantitative","scale":{"domain":[-10,390],"nice":false,"zero":false},"axis":{"values":[0,20,40,60,80,100,120,140,160,180,200,220,240,260,280,300,320,340,360,380],"labelExpr":"datum.value % 40 == 20 ? datum.label : ''","title":null}},
  "color":{"field":"m","type":"nominal","title":null,"scale":{"domain":["REPP","LAVAPilot"],"range":["#0000ff","#ff0000"]},"legend":{"orient":"none","legendX":473,"legendY":742,"direction":"horizontal","symbolType":"M-2,0H2","symbolStrokeWidth":4.5,"symbolSize":225,"symbolOffset":6.25,"labelFontSize":13.2,"labelColor":"#000000","strokeColor":"#cccccc","fillColor":"#ffffff","padding":5,"cornerRadius":3,"columnPadding":19.5,"labelOffset":12.25}}},
 "layer":[
  {"mark":{"type":"rule","strokeWidth":1.4},"encoding":{"y":{"field":"lo","type":"quantitative","title":null,"scale":{"domain":[-3.9,126.3],"nice":false,"zero":false},"axis":{"values":[0,20,40,60,80,100,120],"labels":false,"title":null}},"y2":{"field":"hi"}}},
  {"mark":{"type":"tick","orient":"horizontal","size":6,"thickness":1.4},"encoding":{"y":{"field":"lo","type":"quantitative","title":null}}},
  {"mark":{"type":"tick","orient":"horizontal","size":6,"thickness":1.4},"encoding":{"y":{"field":"hi","type":"quantitative","title":null}}},
  {"mark":{"type":"bar","size":8.5,"strokeWidth":1.4},"encoding":{"y":{"field":"q1","type":"quantitative","title":null},"y2":{"field":"q3"},"order":{"field":"m","type":"nominal","sort":"ascending"},"fill":{"field":"m","type":"nominal","legend":null,"scale":{"domain":["REPP","LAVAPilot"],"range":["#bccfe0","rgba(245,150,170,0.5)"]}},"stroke":{"field":"m","type":"nominal","legend":null,"scale":{"domain":["REPP","LAVAPilot"],"range":["#4646ff","#ff5050"]}}}},
  {"mark":{"type":"tick","orient":"horizontal","size":5,"thickness":1.6},"encoding":{"y":{"field":"med","type":"quantitative","title":null}}}
 ]},
{"width":341,"height":200,"title":"Sensor Speed = 2 m/s, Target Speed = 0.1 m/s","transform":[{"filter":"datum.s == 2 && datum.tgt == 0.1"}],
 "encoding":{"x":{"field":"t","type":"quantitative","scale":{"domain":[-10,390],"nice":false,"zero":false},"axis":{"values":[0,20,40,60,80,100,120,140,160,180,200,220,240,260,280,300,320,340,360,380],"labelExpr":"datum.value % 40 == 20 ? datum.label : ''","title":null}},
  "color":{"field":"m","type":"nominal","title":null,"scale":{"domain":["REPP","LAVAPilot"],"range":["#0000ff","#ff0000"]},"legend":{"orient":"none","legendX":473,"legendY":742,"direction":"horizontal","symbolType":"M-2,0H2","symbolStrokeWidth":4.5,"symbolSize":225,"symbolOffset":6.25,"labelFontSize":13.2,"labelColor":"#000000","strokeColor":"#cccccc","fillColor":"#ffffff","padding":5,"cornerRadius":3,"columnPadding":19.5,"labelOffset":12.25}}},
 "layer":[
  {"mark":{"type":"rule","strokeWidth":1.4},"encoding":{"y":{"field":"lo","type":"quantitative","title":"RMSE (m)","scale":{"domain":[-2.9,113.2],"nice":false,"zero":false},"axis":{"values":[0,20,40,60,80,100],"title":"RMSE (m)"}},"y2":{"field":"hi"}}},
  {"mark":{"type":"tick","orient":"horizontal","size":6,"thickness":1.4},"encoding":{"y":{"field":"lo","type":"quantitative","title":"RMSE (m)"}}},
  {"mark":{"type":"tick","orient":"horizontal","size":6,"thickness":1.4},"encoding":{"y":{"field":"hi","type":"quantitative","title":"RMSE (m)"}}},
  {"mark":{"type":"bar","size":8.5,"strokeWidth":1.4},"encoding":{"y":{"field":"q1","type":"quantitative","title":"RMSE (m)"},"y2":{"field":"q3"},"order":{"field":"m","type":"nominal","sort":"ascending"},"fill":{"field":"m","type":"nominal","legend":null,"scale":{"domain":["REPP","LAVAPilot"],"range":["#bccfe0","rgba(245,150,170,0.5)"]}},"stroke":{"field":"m","type":"nominal","legend":null,"scale":{"domain":["REPP","LAVAPilot"],"range":["#4646ff","#ff5050"]}}}},
  {"mark":{"type":"tick","orient":"horizontal","size":5,"thickness":1.6},"encoding":{"y":{"field":"med","type":"quantitative","title":"RMSE (m)"}}}
 ]},
{"width":341,"height":200,"title":"Sensor Speed = 2 m/s, Target Speed = 0.5 m/s","transform":[{"filter":"datum.s == 2 && datum.tgt == 0.5"}],
 "encoding":{"x":{"field":"t","type":"quantitative","scale":{"domain":[-10,390],"nice":false,"zero":false},"axis":{"values":[0,20,40,60,80,100,120,140,160,180,200,220,240,260,280,300,320,340,360,380],"labelExpr":"datum.value % 40 == 20 ? datum.label : ''","title":null}},
  "color":{"field":"m","type":"nominal","title":null,"scale":{"domain":["REPP","LAVAPilot"],"range":["#0000ff","#ff0000"]},"legend":{"orient":"none","legendX":473,"legendY":742,"direction":"horizontal","symbolType":"M-2,0H2","symbolStrokeWidth":4.5,"symbolSize":225,"symbolOffset":6.25,"labelFontSize":13.2,"labelColor":"#000000","strokeColor":"#cccccc","fillColor":"#ffffff","padding":5,"cornerRadius":3,"columnPadding":19.5,"labelOffset":12.25}}},
 "layer":[
  {"mark":{"type":"rule","strokeWidth":1.4},"encoding":{"y":{"field":"lo","type":"quantitative","title":null,"scale":{"domain":[-2.9,113.2],"nice":false,"zero":false},"axis":{"values":[0,20,40,60,80,100],"labels":false,"title":null}},"y2":{"field":"hi"}}},
  {"mark":{"type":"tick","orient":"horizontal","size":6,"thickness":1.4},"encoding":{"y":{"field":"lo","type":"quantitative","title":null}}},
  {"mark":{"type":"tick","orient":"horizontal","size":6,"thickness":1.4},"encoding":{"y":{"field":"hi","type":"quantitative","title":null}}},
  {"mark":{"type":"bar","size":8.5,"strokeWidth":1.4},"encoding":{"y":{"field":"q1","type":"quantitative","title":null},"y2":{"field":"q3"},"order":{"field":"m","type":"nominal","sort":"ascending"},"fill":{"field":"m","type":"nominal","legend":null,"scale":{"domain":["REPP","LAVAPilot"],"range":["#bccfe0","rgba(245,150,170,0.5)"]}},"stroke":{"field":"m","type":"nominal","legend":null,"scale":{"domain":["REPP","LAVAPilot"],"range":["#4646ff","#ff5050"]}}}},
  {"mark":{"type":"tick","orient":"horizontal","size":5,"thickness":1.6},"encoding":{"y":{"field":"med","type":"quantitative","title":null}}}
 ]},
{"width":341,"height":200,"title":"Sensor Speed = 2 m/s, Target Speed = 1 m/s","transform":[{"filter":"datum.s == 2 && datum.tgt == 1"}],
 "encoding":{"x":{"field":"t","type":"quantitative","scale":{"domain":[-10,390],"nice":false,"zero":false},"axis":{"values":[0,20,40,60,80,100,120,140,160,180,200,220,240,260,280,300,320,340,360,380],"labelExpr":"datum.value % 40 == 20 ? datum.label : ''","title":null}},
  "color":{"field":"m","type":"nominal","title":null,"scale":{"domain":["REPP","LAVAPilot"],"range":["#0000ff","#ff0000"]},"legend":{"orient":"none","legendX":473,"legendY":742,"direction":"horizontal","symbolType":"M-2,0H2","symbolStrokeWidth":4.5,"symbolSize":225,"symbolOffset":6.25,"labelFontSize":13.2,"labelColor":"#000000","strokeColor":"#cccccc","fillColor":"#ffffff","padding":5,"cornerRadius":3,"columnPadding":19.5,"labelOffset":12.25}}},
 "layer":[
  {"mark":{"type":"rule","strokeWidth":1.4},"encoding":{"y":{"field":"lo","type":"quantitative","title":null,"scale":{"domain":[-2.9,113.2],"nice":false,"zero":false},"axis":{"values":[0,20,40,60,80,100],"labels":false,"title":null}},"y2":{"field":"hi"}}},
  {"mark":{"type":"tick","orient":"horizontal","size":6,"thickness":1.4},"encoding":{"y":{"field":"lo","type":"quantitative","title":null}}},
  {"mark":{"type":"tick","orient":"horizontal","size":6,"thickness":1.4},"encoding":{"y":{"field":"hi","type":"quantitative","title":null}}},
  {"mark":{"type":"bar","size":8.5,"strokeWidth":1.4},"encoding":{"y":{"field":"q1","type":"quantitative","title":null},"y2":{"field":"q3"},"order":{"field":"m","type":"nominal","sort":"ascending"},"fill":{"field":"m","type":"nominal","legend":null,"scale":{"domain":["REPP","LAVAPilot"],"range":["#bccfe0","rgba(245,150,170,0.5)"]}},"stroke":{"field":"m","type":"nominal","legend":null,"scale":{"domain":["REPP","LAVAPilot"],"range":["#4646ff","#ff5050"]}}}},
  {"mark":{"type":"tick","orient":"horizontal","size":5,"thickness":1.6},"encoding":{"y":{"field":"med","type":"quantitative","title":null}}}
 ]},
{"width":341,"height":200,"title":"Sensor Speed = 3 m/s, Target Speed = 0.1 m/s","transform":[{"filter":"datum.s == 3 && datum.tgt == 0.1"}],
 "encoding":{"x":{"field":"t","type":"quantitative","scale":{"domain":[-10,390],"nice":false,"zero":false},"axis":{"values":[0,20,40,60,80,100,120,140,160,180,200,220,240,260,280,300,320,340,360,380],"labelExpr":"datum.value % 40 == 20 ? datum.label : ''","title":null}},
  "color":{"field":"m","type":"nominal","title":null,"scale":{"domain":["REPP","LAVAPilot"],"range":["#0000ff","#ff0000"]},"legend":{"orient":"none","legendX":473,"legendY":742,"direction":"horizontal","symbolType":"M-2,0H2","symbolStrokeWidth":4.5,"symbolSize":225,"symbolOffset":6.25,"labelFontSize":13.2,"labelColor":"#000000","strokeColor":"#cccccc","fillColor":"#ffffff","padding":5,"cornerRadius":3,"columnPadding":19.5,"labelOffset":12.25}}},
 "layer":[
  {"mark":{"type":"rule","strokeWidth":1.4},"encoding":{"y":{"field":"lo","type":"quantitative","title":null,"scale":{"domain":[-2.45,95.5],"nice":false,"zero":false},"axis":{"values":[0,20,40,60,80],"title":null}},"y2":{"field":"hi"}}},
  {"mark":{"type":"tick","orient":"horizontal","size":6,"thickness":1.4},"encoding":{"y":{"field":"lo","type":"quantitative","title":null}}},
  {"mark":{"type":"tick","orient":"horizontal","size":6,"thickness":1.4},"encoding":{"y":{"field":"hi","type":"quantitative","title":null}}},
  {"mark":{"type":"bar","size":8.5,"strokeWidth":1.4},"encoding":{"y":{"field":"q1","type":"quantitative","title":null},"y2":{"field":"q3"},"order":{"field":"m","type":"nominal","sort":"ascending"},"fill":{"field":"m","type":"nominal","legend":null,"scale":{"domain":["REPP","LAVAPilot"],"range":["#bccfe0","rgba(245,150,170,0.5)"]}},"stroke":{"field":"m","type":"nominal","legend":null,"scale":{"domain":["REPP","LAVAPilot"],"range":["#4646ff","#ff5050"]}}}},
  {"mark":{"type":"tick","orient":"horizontal","size":5,"thickness":1.6},"encoding":{"y":{"field":"med","type":"quantitative","title":null}}}
 ]},
{"width":341,"height":200,"title":"Sensor Speed = 3 m/s, Target Speed = 0.5 m/s","transform":[{"filter":"datum.s == 3 && datum.tgt == 0.5"}],
 "encoding":{"x":{"field":"t","type":"quantitative","scale":{"domain":[-10,390],"nice":false,"zero":false},"axis":{"values":[0,20,40,60,80,100,120,140,160,180,200,220,240,260,280,300,320,340,360,380],"labelExpr":"datum.value % 40 == 20 ? datum.label : ''","title":"Time (s)"}},
  "color":{"field":"m","type":"nominal","title":null,"scale":{"domain":["REPP","LAVAPilot"],"range":["#0000ff","#ff0000"]},"legend":{"orient":"none","legendX":473,"legendY":742,"direction":"horizontal","symbolType":"M-2,0H2","symbolStrokeWidth":4.5,"symbolSize":225,"symbolOffset":6.25,"labelFontSize":13.2,"labelColor":"#000000","strokeColor":"#cccccc","fillColor":"#ffffff","padding":5,"cornerRadius":3,"columnPadding":19.5,"labelOffset":12.25}}},
 "layer":[
  {"mark":{"type":"rule","strokeWidth":1.4},"encoding":{"y":{"field":"lo","type":"quantitative","title":null,"scale":{"domain":[-2.45,95.5],"nice":false,"zero":false},"axis":{"values":[0,20,40,60,80],"labels":false,"title":null}},"y2":{"field":"hi"}}},
  {"mark":{"type":"tick","orient":"horizontal","size":6,"thickness":1.4},"encoding":{"y":{"field":"lo","type":"quantitative","title":null}}},
  {"mark":{"type":"tick","orient":"horizontal","size":6,"thickness":1.4},"encoding":{"y":{"field":"hi","type":"quantitative","title":null}}},
  {"mark":{"type":"bar","size":8.5,"strokeWidth":1.4},"encoding":{"y":{"field":"q1","type":"quantitative","title":null},"y2":{"field":"q3"},"order":{"field":"m","type":"nominal","sort":"ascending"},"fill":{"field":"m","type":"nominal","legend":null,"scale":{"domain":["REPP","LAVAPilot"],"range":["#bccfe0","rgba(245,150,170,0.5)"]}},"stroke":{"field":"m","type":"nominal","legend":null,"scale":{"domain":["REPP","LAVAPilot"],"range":["#4646ff","#ff5050"]}}}},
  {"mark":{"type":"tick","orient":"horizontal","size":5,"thickness":1.6},"encoding":{"y":{"field":"med","type":"quantitative","title":null}}}
 ]},
{"width":341,"height":200,"title":"Sensor Speed = 3 m/s, Target Speed = 1 m/s","transform":[{"filter":"datum.s == 3 && datum.tgt == 1"}],
 "encoding":{"x":{"field":"t","type":"quantitative","scale":{"domain":[-10,390],"nice":false,"zero":false},"axis":{"values":[0,20,40,60,80,100,120,140,160,180,200,220,240,260,280,300,320,340,360,380],"labelExpr":"datum.value % 40 == 20 ? datum.label : ''","title":null}},
  "color":{"field":"m","type":"nominal","title":null,"scale":{"domain":["REPP","LAVAPilot"],"range":["#0000ff","#ff0000"]},"legend":{"orient":"none","legendX":473,"legendY":742,"direction":"horizontal","symbolType":"M-2,0H2","symbolStrokeWidth":4.5,"symbolSize":225,"symbolOffset":6.25,"labelFontSize":13.2,"labelColor":"#000000","strokeColor":"#cccccc","fillColor":"#ffffff","padding":5,"cornerRadius":3,"columnPadding":19.5,"labelOffset":12.25}}},
 "layer":[
  {"mark":{"type":"rule","strokeWidth":1.4},"encoding":{"y":{"field":"lo","type":"quantitative","title":null,"scale":{"domain":[-2.45,95.5],"nice":false,"zero":false},"axis":{"values":[0,20,40,60,80],"labels":false,"title":null}},"y2":{"field":"hi"}}},
  {"mark":{"type":"tick","orient":"horizontal","size":6,"thickness":1.4},"encoding":{"y":{"field":"lo","type":"quantitative","title":null}}},
  {"mark":{"type":"tick","orient":"horizontal","size":6,"thickness":1.4},"encoding":{"y":{"field":"hi","type":"quantitative","title":null}}},
  {"mark":{"type":"bar","size":8.5,"strokeWidth":1.4},"encoding":{"y":{"field":"q1","type":"quantitative","title":null},"y2":{"field":"q3"},"order":{"field":"m","type":"nominal","sort":"ascending"},"fill":{"field":"m","type":"nominal","legend":null,"scale":{"domain":["REPP","LAVAPilot"],"range":["#bccfe0","rgba(245,150,170,0.5)"]}},"stroke":{"field":"m","type":"nominal","legend":null,"scale":{"domain":["REPP","LAVAPilot"],"range":["#4646ff","#ff5050"]}}}},
  {"mark":{"type":"tick","orient":"horizontal","size":5,"thickness":1.6},"encoding":{"y":{"field":"med","type":"quantitative","title":null}}}
 ]}
],
"resolve": {"scale": {"y": "independent"}},
"config": {
 "font": "DejaVu Sans",
 "view": {"stroke": "#000000", "strokeWidth": 1},
 "axis": {"domain": false, "grid": true, "gridColor": "#b0b0b0", "gridWidth": 1, "gridOpacity": 1, "ticks": true, "tickColor": "#000000", "tickSize": 3.5, "tickWidth": 1, "labelFont": "DejaVu Sans", "labelFontSize": 13.2, "labelColor": "#000000", "labelPadding": 2.5, "titleFont": "DejaVu Sans", "titleFontSize": 13.2, "titleFontWeight": "normal", "titleColor": "#000000"},
 "axisX": {"labelAngle": 0, "labelOverlap": false, "labelFlush": false, "labelBound": false, "titlePadding": 18, "labelPadding": 1.5},
 "axisY": {"titlePadding": 35, "labelOverlap": false},
 "title": {"font": "DejaVu Sans", "fontSize": 16.5, "fontWeight": "normal", "color": "#000000", "offset": 4, "anchor": "middle"},
 "legend": {"labelFont": "DejaVu Sans"}
}
}
